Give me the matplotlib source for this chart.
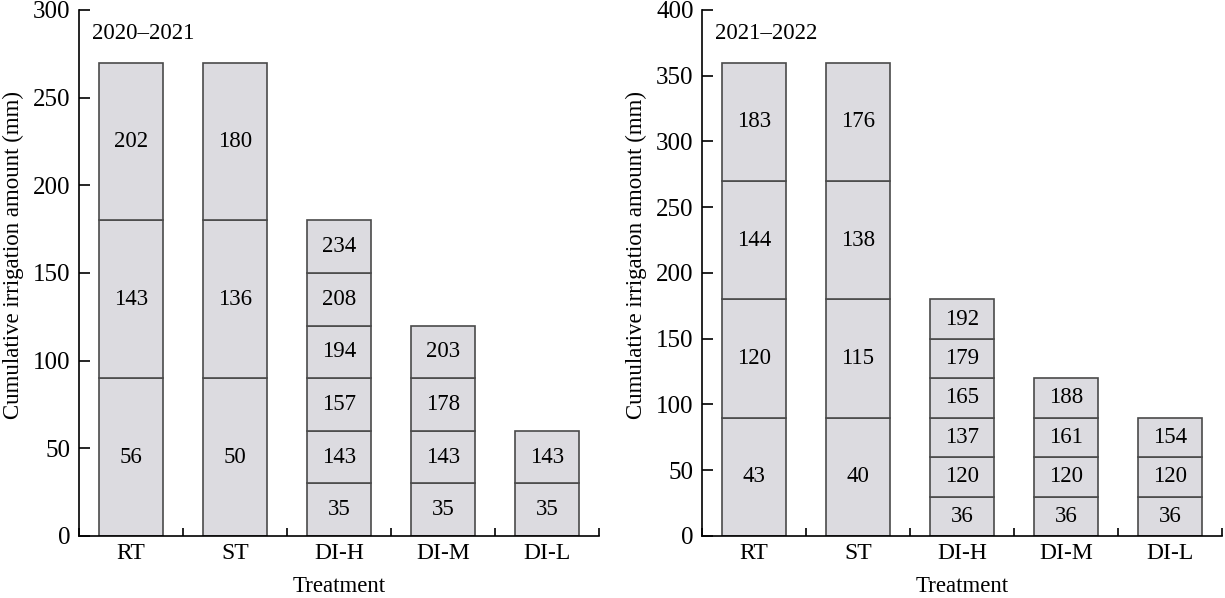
import matplotlib.pyplot as plt

plt.rcParams['font.family'] = ['Liberation Serif', 'DejaVu Serif']

treatments = ['RT', 'ST', 'DI-H', 'DI-M', 'DI-L']

# irrigation amount per event (mm) and day label of each event
amt_2021 = [[90, 90, 90], [90, 90, 90], [30] * 6, [30] * 4, [30] * 2]
day_2021 = [[56, 143, 202], [50, 136, 180], [35, 143, 157, 194, 208, 234],
            [35, 143, 178, 203], [35, 143]]

amt_2022 = [[90] * 4, [90] * 4, [30] * 6, [30] * 4, [30] * 3]
day_2022 = [[43, 120, 144, 183], [40, 115, 138, 176], [36, 120, 137, 165, 179, 192],
            [36, 120, 161, 188], [36, 120, 154]]

fig = plt.figure(figsize=(12.25, 5.98), dpi=100)
ax1 = fig.add_axes([0.0645, 0.1037, 0.4245, 0.8796])
ax2 = fig.add_axes([0.573, 0.1037, 0.4245, 0.8796])

face = '#dcdbe0'
edge = '#4a4a4a'


def draw(ax, amts, days, ymax, title):
    for i, (a_list, d_list) in enumerate(zip(amts, days)):
        bottom = 0
        for a, d in zip(a_list, d_list):
            ax.bar(i, a, bottom=bottom, width=0.62, color=face,
                   edgecolor=edge, linewidth=1.2)
            ax.text(i, bottom + a / 2, str(d), ha='center', va='center', fontsize=16.5)
            bottom += a
    ax.set_xlim(-0.5, 4.5)
    ax.set_ylim(0, ymax)
    ax.set_xticks([i + 0.5 for i in range(-1, 5)], minor=False)
    ax.set_xticklabels([])
    ax.set_xticks(range(5), minor=True)
    ax.set_xticklabels(treatments, minor=True)
    ax.tick_params(axis='x', which='major', direction='in', length=6, width=1.2)
    ax.tick_params(axis='x', which='minor', length=0, labelsize=17, pad=5)
    ax.tick_params(axis='y', direction='in', length=8, width=1.2, labelsize=18, pad=6)
    ax.spines['top'].set_visible(False)
    ax.spines['right'].set_visible(False)
    ax.spines['left'].set_linewidth(1.2)
    ax.spines['bottom'].set_linewidth(1.2)
    ax.set_xlabel('Treatment', fontsize=16.5, labelpad=9)
    ax.set_ylabel('Cumulative irrigation amount (mm)', fontsize=16.5)
    ax.yaxis.set_label_coords(-0.106, 0.535)
    ax.text(0.025, 0.955, title, transform=ax.transAxes, fontsize=16.5,
            ha='left', va='center')


draw(ax1, amt_2021, day_2021, 300, '2020\u20132021')
draw(ax2, amt_2022, day_2022, 400, '2021\u20132022')

fig.savefig('out.png', dpi=100)
